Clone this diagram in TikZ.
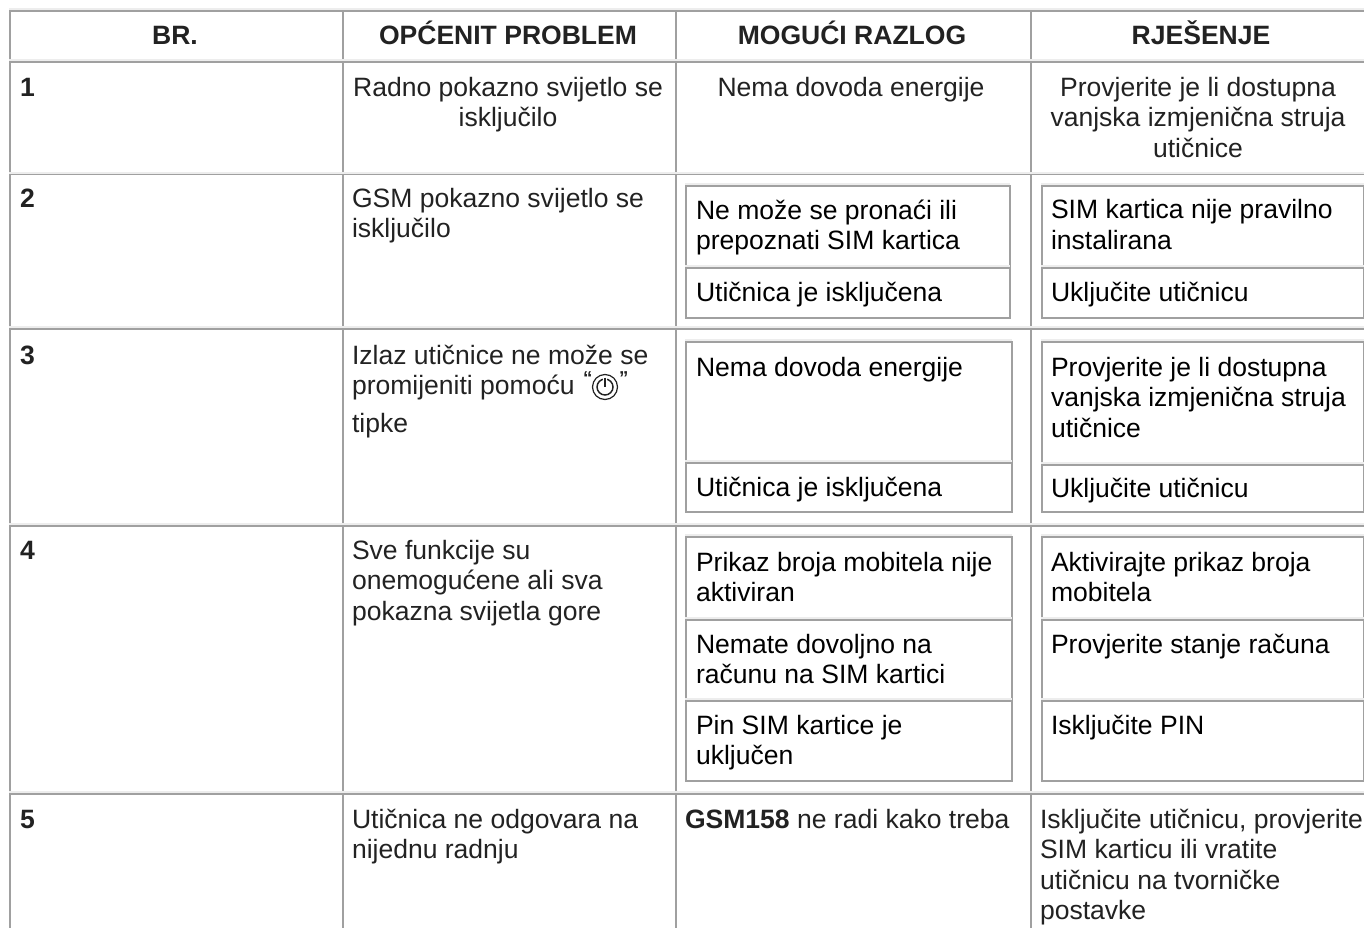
\documentclass[tikz,border=0pt]{standalone}
\usepackage{fontspec}
\setmainfont{Liberation Sans}
\definecolor{rule}{HTML}{A0A0A0}
\definecolor{soft}{HTML}{EDEDED}
\definecolor{ink}{HTML}{222222}
\newcommand{\bodyfont}{\fontsize{19.9pt}{22.9pt}\selectfont}
\tikzset{
  x=0.75pt,y=-0.75pt,
  txt/.style={anchor=north west,inner sep=0pt,outer sep=0pt,align=left,text=ink,font=\bodyfont,
    execute at begin node={\rule{0pt}{14.5pt}}},
  ctr/.style={txt,anchor=north,align=center},
  num/.style={txt,font=\bodyfont\bfseries},
  hdr/.style={anchor=base,inner sep=0pt,text=ink,font=\bodyfont\bfseries},
  inner/.style={txt,text=black},
  quotemark/.style={anchor=north west,inner sep=0pt,outer sep=0pt,text=ink,font=\fontsize{14pt}{14pt}\selectfont\bfseries},
  grid/.style={draw=rule,line width=1.5pt},
  hgrid/.style={draw=rule,line width=1.05pt},
  softline/.style={draw=soft,line width=1.5pt},
  boxline/.style={draw=rule,line width=1.1pt},
}
\newcommand{\cellrow}[1]{%
  \draw[softline] (9,#1-2) -- (1364,#1-2);
  \draw[hgrid] (9,#1) -- (1364,#1);
}
\newcommand{\inbox}[4]{%
  \draw[softline] (#1-1,#2-2) -- (#3,#2-2);
  \draw[boxline] (#1,#4) -- (#1,#2) -- (#3,#2) -- (#3,#4) -- cycle;
}
\begin{document}
\begin{tikzpicture}
\useasboundingbox (0,0) rectangle (1364,928);
\fill[white] (0,0) rectangle (1364,928);
% table rules
\draw[grid] (10,11) -- (10,928);
\draw[grid] (343,11) -- (343,928);
\draw[grid] (676,11) -- (676,928);
\draw[grid] (1031,11) -- (1031,928);
\draw[softline] (9,9) -- (1364,9);
\draw[grid] (9,11.2) -- (1364,11.2);
\cellrow{62}
\cellrow{174.7}
\cellrow{329}
\cellrow{526}
\cellrow{794}
% nested tables
\inbox{686}{186}{1010}{266}
\inbox{686}{268}{1010}{318}
\inbox{1042}{186}{1364}{266}
\inbox{1042}{268}{1364}{318}
\inbox{686}{342}{1012}{461}
\inbox{686}{463}{1012}{512}
\inbox{1042}{342}{1364}{463}
\inbox{1042}{465}{1364}{512}
\inbox{686}{537}{1012}{618}
\inbox{686}{620}{1012}{699}
\inbox{686}{701}{1012}{781}
\inbox{1042}{537}{1364}{618}
\inbox{1042}{620}{1364}{699}
\inbox{1042}{701}{1364}{781}
% header
\node[hdr] (h1) at (175,44.5) {BR.};
\node[hdr] (h2) at (508,44.5) {OPĆENIT PROBLEM};
\node[hdr] (h3) at (852,44.5) {MOGUĆI RAZLOG};
\node[hdr] (h4) at (1201,44.5) {RJEŠENJE};
% numbers
\node[num] (n1) at (20,77) {1};
\node[num] (n2) at (20,188) {2};
\node[num] (n3) at (20,345) {3};
\node[num] (n4) at (20,540) {4};
\node[num] (n5) at (20,809) {5};
% column 2
\node[ctr] (p1) at (508,77) {Radno pokazno svijetlo se\\isključilo};
\node[txt] (p2) at (352,188) {GSM pokazno svijetlo se\\isključilo};
\node[txt] (p3) at (352,345) {Izlaz utičnice ne može se\\promijeniti pomoću\\[5.6pt]tipke};
\node[txt] (p4) at (352,540) {Sve funkcije su\\onemogućene ali sva\\pokazna svijetla gore};
\node[txt] (p5) at (352,809) {Utičnica ne odgovara na\\nijednu radnju};
% power icon
\node[quotemark] (q1) at (583,372) {“};
\node[quotemark] (q2) at (619,372) {”};
\draw[ink,line width=0.9pt] (605,387) circle[radius=12.5];
\draw[ink,line width=1.1pt] (605,387) circle[radius=8];
\draw[white,line width=2.4pt] (605,378) -- (605,383);
\draw[ink,line width=1pt] (605,377.5) -- (605,387);
% column 3
\node[ctr] (c1) at (851,77) {Nema dovoda energije};
\node[inner] (c2a) at (696,199.5) {Ne može se pronaći ili\\prepoznati SIM kartica};
\node[inner] (c2b) at (696,282) {Utičnica je isključena};
\node[inner] (c3a) at (696,357) {Nema dovoda energije};
\node[inner] (c3b) at (696,477) {Utičnica je isključena};
\node[inner] (c4a) at (696,552) {Prikaz broja mobitela nije\\aktiviran};
\node[inner] (c4b) at (696,634) {Nemate dovoljno na\\računu na SIM kartici};
\node[inner] (c4c) at (696,715) {Pin SIM kartice je\\uključen};
\node[txt] (c5) at (685,809) {\textbf{GSM158} ne radi kako treba};
% column 4
\node[ctr] (s1) at (1198,77) {Provjerite je li dostupna\\vanjska izmjenična struja\\utičnice};
\node[inner] (s2a) at (1051,199.5) {SIM kartica nije pravilno\\instalirana};
\node[inner] (s2b) at (1051,282) {Uključite utičnicu};
\node[inner] (s3a) at (1051,357) {Provjerite je li dostupna\\vanjska izmjenična struja\\utičnice};
\node[inner] (s3b) at (1051,478) {Uključite utičnicu};
\node[inner] (s4a) at (1051,552) {Aktivirajte prikaz broja\\mobitela};
\node[inner] (s4b) at (1051,634) {Provjerite stanje računa};
\node[inner] (s4c) at (1051,715) {Isključite PIN};
\node[txt] (s5) at (1040,809) {Isključite utičnicu, provjerite\\SIM karticu ili vratite\\utičnicu na tvorničke\\postavke};
\end{tikzpicture}
\end{document}
